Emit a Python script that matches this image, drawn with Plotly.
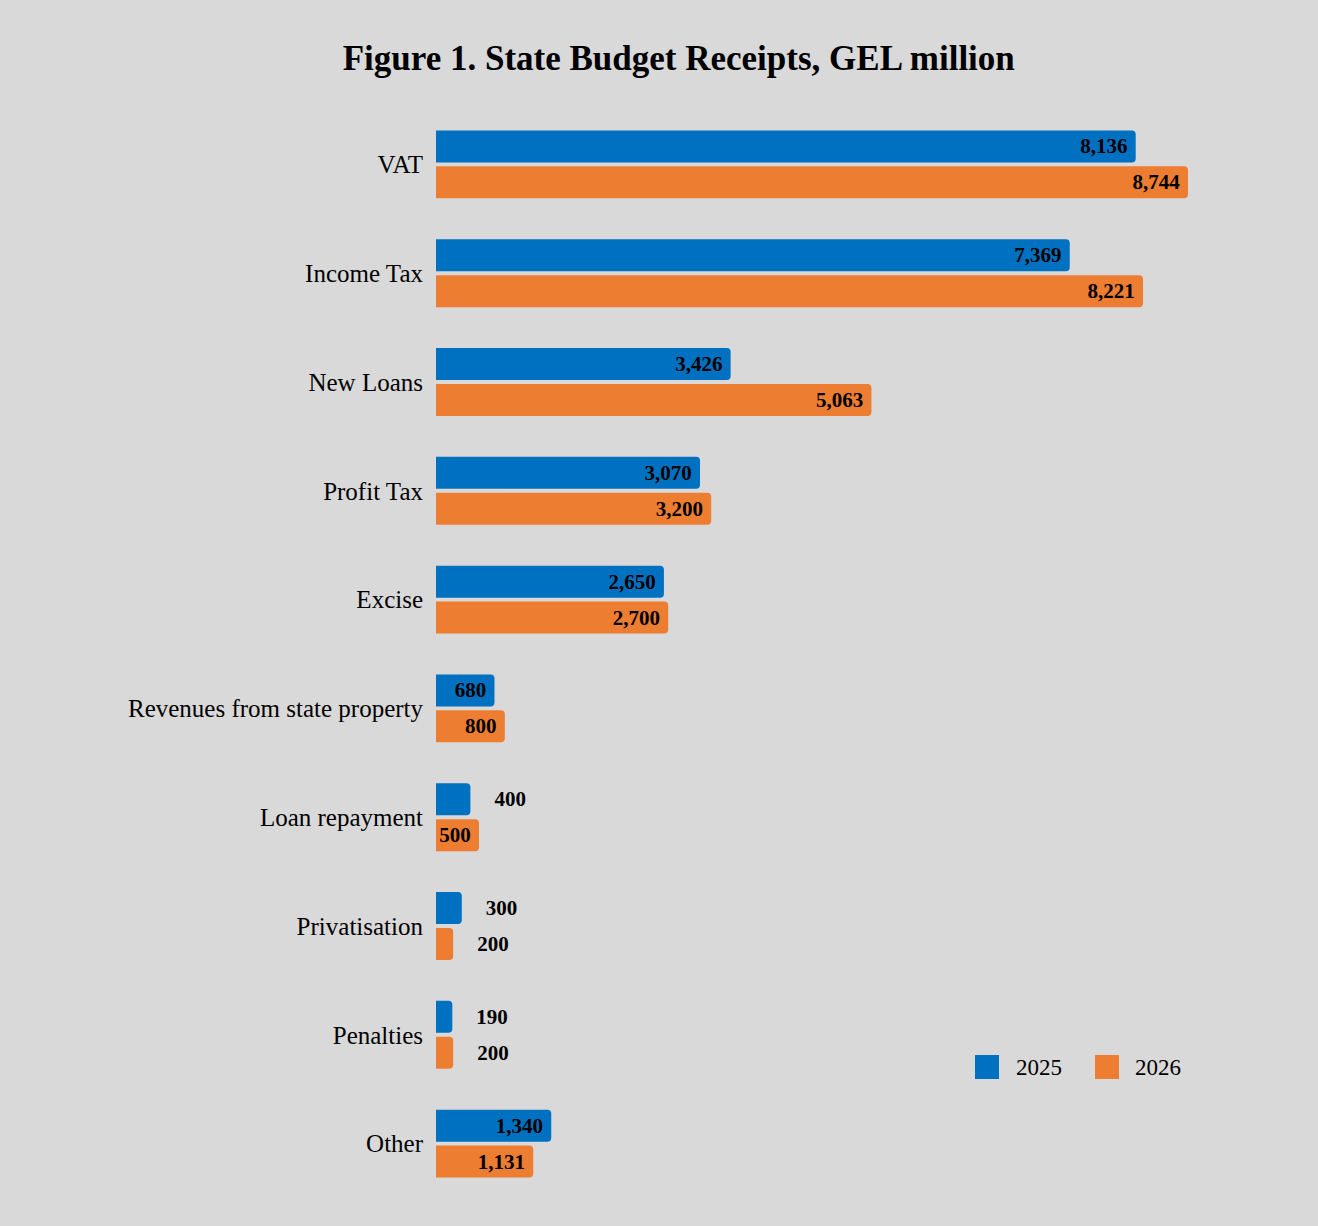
import plotly.graph_objects as go

categories = ["VAT", "Income Tax", "New Loans", "Profit Tax", "Excise",
              "Revenues from state property", "Loan repayment", "Privatisation",
              "Penalties", "Other"]
values_2025 = [8136, 7369, 3426, 3070, 2650, 680, 400, 300, 190, 1340]
values_2026 = [8744, 8221, 5063, 3200, 2700, 800, 500, 200, 200, 1131]
series_names = ["2025", "2026"]

FONT = "Liberation Serif"
BLUE = "#0070C0"
ORANGE = "#ED7D31"
BG = "#D9D9D9"
NB = "\u00a0"
OUTSIDE_MAX = 450  # values below this get their label outside the bar


def labels(vals):
    txt, pos = [], []
    for v in vals:
        if v < OUTSIDE_MAX:
            txt.append(NB * 4 + f"{v:,}")
            pos.append("outside")
        else:
            txt.append(f"{v:,}" + NB)
            pos.append("inside")
    return txt, pos


fig = go.Figure()
for name, vals, col in [(series_names[0], values_2025, BLUE), (series_names[1], values_2026, ORANGE)]:
    txt, pos = labels(vals)
    fig.add_trace(go.Bar(
        name=name, y=categories, x=vals, orientation="h",
        marker=dict(color=col, line=dict(width=0)),
        text=txt, textposition=pos,
        insidetextanchor="end",
        textfont=dict(family=FONT, size=21, color="black", weight="bold"),
        insidetextfont=dict(family=FONT, size=21, color="black", weight="bold"),
        outsidetextfont=dict(family=FONT, size=21, color="black", weight="bold"),
        cliponaxis=False, showlegend=False,
    ))

# manual legend (large square swatches)
L, R_, T, B = 436, 60, 110, 28
W, H = 1318 - L - R_, 1226 - T - B
def px(x):
    return (x - L) / W
def py(y):
    return (1226 - B - y) / H

shapes, annos = [], []
for sx, tx, col, name in [(975, 1014, BLUE, series_names[0]), (1095, 1133, ORANGE, series_names[1])]:
    shapes.append(dict(type="rect", xref="paper", yref="paper",
                       x0=px(sx), x1=px(sx + 24), y0=py(1079), y1=py(1055),
                       fillcolor=col, line=dict(width=0)))
    annos.append(dict(xref="paper", yref="paper", x=px(tx), y=py(1067),
                      xanchor="left", yanchor="middle", showarrow=False, text=name,
                      font=dict(family=FONT, size=23, color="black")))

fig.update_layout(
    width=1318, height=1226,
    paper_bgcolor=BG, plot_bgcolor=BG,
    barmode="group", bargap=0.34, bargroupgap=0.11, barcornerradius=4,
    margin=dict(l=L, r=R_, t=T, b=B),
    title=dict(text="Figure 1. State Budget Receipts, GEL million",
               x=0.515, xanchor="center", y=0.953, yanchor="middle",
               font=dict(family=FONT, size=35, color="black", weight="bold")),
    font=dict(family=FONT, color="black"),
    xaxis=dict(range=[0, 9558], visible=False, showgrid=False, zeroline=False),
    yaxis=dict(categoryorder="array", categoryarray=categories, autorange="reversed",
               showgrid=False, zeroline=False, showline=False, ticks="",
               ticklabelstandoff=12,
               tickfont=dict(family=FONT, size=25, color="black")),
    showlegend=False,
    shapes=shapes, annotations=annos,
    uniformtext=dict(mode=False),
)

fig.write_html("out.html", config={"displayModeBar": False},
               post_script="document.body.style.margin='0';")
